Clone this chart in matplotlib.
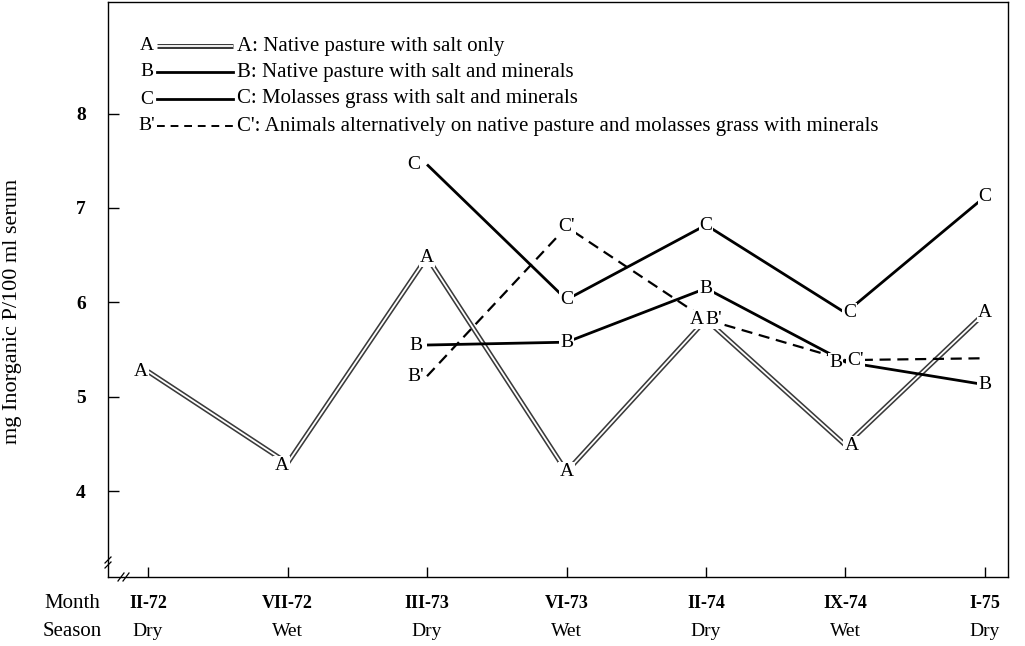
import matplotlib
matplotlib.use("Agg")
import matplotlib.pyplot as plt
from matplotlib.lines import Line2D

plt.rcParams["font.family"] = ["Liberation Serif", "DejaVu Serif"]

# sampling dates and seasons
months = ["II-72", "VII-72", "III-73", "VI-73", "II-74", "IX-74", "I-75"]
seasons = ["Dry", "Wet", "Dry", "Wet", "Dry", "Wet", "Dry"]

# mg inorganic P / 100 ml serum per group (None = not sampled)
group_a = [5.27, 4.30, 6.48, 4.21, 5.82, 4.49, 5.89]
group_b = [None, None, 5.55, 5.58, 6.15, 5.37, 5.13]
group_c = [None, None, 7.46, 6.03, 6.82, 5.89, 7.12]
group_c2 = [None, None, 5.22, 6.80, 5.82, 5.39, 5.41]

# point letters written on the curves
labels_a = ["A", "A", "A", "A", "A", "A", "A"]
labels_b = [None, None, "B", "B", "B", "B", "B"]
labels_c = [None, None, "C", "C", "C", "C", "C"]
labels_c2 = [None, None, "B'", "C'", "B'", "C'", None]

legend_keys = ["A", "B", "C", "B'"]
legend_texts = [
    "A: Native pasture with salt only",
    "B: Native pasture with salt and minerals",
    "C: Molasses grass with salt and minerals",
    "C': Animals alternatively on native pasture and molasses grass with minerals",
]

W, H = 1025, 646
fig = plt.figure(figsize=(W / 100, H / 100), dpi=100)
L, R, B, T = 108, 1008, 577, 2
ax = fig.add_axes([L / W, 1 - B / H, (R - L) / W, (B - T) / H])

x = list(range(len(months)))
ax.set_xlim(-0.287, 6.165)
ax.set_ylim(3.095, 9.18)


def pts(vals):
    return [(i, v) for i, v in enumerate(vals) if v is not None]


def draw(vals, **kw):
    p = pts(vals)
    ax.plot([q[0] for q in p], [q[1] for q in p], solid_capstyle="butt",
            dash_capstyle="butt", **kw)


# A: hollow double line
draw(group_a, color="#3a3a3a", lw=3.6, zorder=2)
draw(group_a, color="white", lw=1.3, zorder=2.1)
# B and C: solid
draw(group_b, color="black", lw=2.0, zorder=3)
draw(group_c, color="black", lw=2.0, zorder=3)
# C': dashed
draw(group_c2, color="black", lw=1.6, ls=(0, (5, 3)), zorder=3)

# letters sitting on the curve points, masking the line ends (pixel nudges)
shift = {("A", 0): (-7, 0), ("A", 1): (-6, -2), ("C", 2): (-13, 0),
         ("B", 2): (-11, 0), ("B'", 2): (-11, 0), ("A", 4): (-9, 0),
         ("B'", 4): (8, 0), ("B", 5): (-10, 0), ("C'", 5): (10, 0),
         ("A", 5): (6, 0), ("C", 5): (4, 0)}
for vals, labs in [(group_a, labels_a), (group_c2, labels_c2),
                   (group_c, labels_c), (group_b, labels_b)]:
    for i, (v, lab) in enumerate(zip(vals, labs)):
        if v is None or lab is None:
            continue
        dx, dy = shift.get((lab, i), (0, 0))
        ax.annotate(lab, (i, v), xytext=(dx, dy), textcoords="offset pixels",
                    ha="center", va="center", fontsize=14, zorder=5,
                    bbox=dict(boxstyle="square,pad=0.05", fc="white", ec="none"))

# axes styling
for s in ax.spines.values():
    s.set_linewidth(1.0)
ax.set_xticks(x)
ax.set_xticklabels([])
ax.tick_params(axis="x", direction="in", length=7, width=1)
ax.set_yticks([4, 5, 6, 7, 8])
ax.set_yticklabels(["4", "5", "6", "7", "8"], fontsize=14, fontweight="bold")
ax.tick_params(axis="y", direction="in", length=8, width=1, pad=16)
ax.set_ylabel("mg Inorganic P/100 ml serum", fontsize=16)
ax.yaxis.set_label_coords(-0.096, 0.461)

# month / season rows under the axis
for i, (m, s) in enumerate(zip(months, seasons)):
    ax.annotate(m, (i, 0), xycoords=("data", "axes fraction"), xytext=(0, -27),
                textcoords="offset pixels", ha="center", va="center",
                fontsize=13, fontweight="bold")
    ax.annotate(s, (i, 0), xycoords=("data", "axes fraction"), xytext=(0, -54),
                textcoords="offset pixels", ha="center", va="center", fontsize=14)
fig.text(72 / W, 1 - 604 / H, "Month", ha="center", va="center", fontsize=15)
fig.text(72 / W, 1 - 631 / H, "Season", ha="center", va="center", fontsize=15)

# axis break marks
for dx in (0, 5):
    fig.add_artist(Line2D([(118 + dx) / W, (124 + dx) / W],
                          [1 - (B + 4) / H, 1 - (B - 4) / H], color="black", lw=0.9))
    fig.add_artist(Line2D([(105) / W, (111) / W],
                          [1 - (560 + dx + 3) / H, 1 - (560 + dx - 3) / H],
                          color="black", lw=0.9))

# key, written inside the plot area
row_y = [46, 72, 99, 126]
for key, txt, yy, sty in zip(legend_keys, legend_texts, row_y, ["a", "b", "c", "d"]):
    fy = 1 - yy / H
    fig.text(147 / W, fy, key, ha="center", va="center", fontsize=14)
    xs = [157 / W, 233 / W]
    if sty == "a":
        fig.add_artist(Line2D(xs, [fy, fy], color="#3a3a3a", lw=3.6, solid_capstyle="butt"))
        fig.add_artist(Line2D(xs, [fy, fy], color="white", lw=1.3, solid_capstyle="butt"))
    elif sty == "d":
        fig.add_artist(Line2D(xs, [fy, fy], color="black", lw=1.4, ls=(0, (4, 3))))
    else:
        fig.add_artist(Line2D(xs, [fy, fy], color="black", lw=2.0))
    fig.text(237 / W, fy, txt, ha="left", va="center", fontsize=15)

fig.savefig("out.png", dpi=100)
